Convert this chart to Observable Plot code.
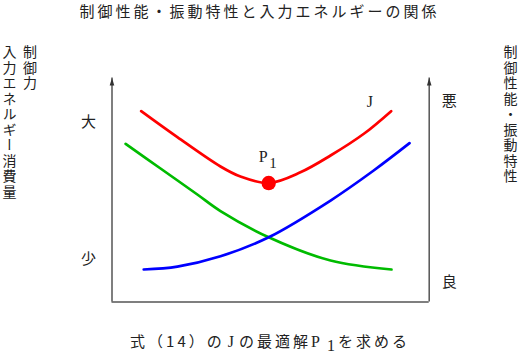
<!DOCTYPE html>
<html>
<head>
<meta charset="utf-8">
<script src="https://cdn.jsdelivr.net/npm/d3@7"></script>
<script src="https://cdn.jsdelivr.net/npm/@observablehq/plot@0.6"></script>
<style>
  body { margin: 0; background: #fff; }
  #wrap { position: relative; width: 519px; height: 353px; overflow: hidden;
          font-family: "Noto Sans CJK JP", sans-serif; color: #222; background: #fff; }
  #title { height: 28px; line-height: 22px; font-size: 15px; letter-spacing: 3px;
           text-align: center; white-space: nowrap; color: #222; }
  .vlab { position: absolute; writing-mode: vertical-rl; font-size: 14px; color: #222;
          letter-spacing: 1.5px; line-height: 20.5px; white-space: nowrap; }
  #caption { height: 25px; line-height: 25px; font-size: 15px; letter-spacing: 3px; color: #222;
             text-align: center; white-space: nowrap; padding-left: 21px; padding-top: 3px; }
  .serif { font-family: "Liberation Serif", serif; font-size: 16px; }
  .j { margin: 0 2px 0 3px; }
  .sub { position: relative; top: 3.5px; margin-left: 4px; }
  #chart svg { display: block; }
</style>
</head>
<body>
<div id="wrap">
  <div id="title">制御性能・振動特性と入力エネルギーの関係</div>
  <div id="chart"></div>
  <div id="caption">式（14）の<span class="serif j">J</span>の最適解<span class="serif">P</span><span class="serif sub">1</span>を求める</div>
  <div class="vlab" id="leftLab" style="left:-1px; top:45px;">制御力<br>入力エネルギー消費量</div>
  <div class="vlab" id="rightLab" style="left:500px; top:45px;">制御性能・振動特性</div>
</div>
<script>
// Curve data (x: control parameter, y: relative level)
const redX   = [9.2, 20.6, 34.2, 40.5, 49.4, 59.4, 68.9, 79.4, 88.0];
const redY   = [85.2, 73.6, 60.5, 56.0, 53.1, 57.9, 65.4, 75.1, 85.2];
const greenX = [4.3, 15.3, 26.9, 34.2, 49.4, 68.9, 88.1];
const greenY = [70.6, 59.6, 48.0, 40.6, 28.9, 18.5, 14.5];
const blueX  = [10.0, 20.6, 34.2, 49.4, 68.9, 82.5, 93.8];
const blueY  = [14.5, 15.8, 20.4, 28.9, 45.3, 58.7, 70.9];

// Optimum point P1
const p1X = [49.4];
const p1Y = [53.1];

// Axis tick labels
const leftTickLabels  = ["大", "少"];
const leftTickValues  = [80.4, 19.0];
const rightTickLabels = ["悪", "良"];
const rightTickValues = [89.5, 8.9];

// Curve label
const curveLabelText = ["J"];
const curveLabelX = [81.3];
const curveLabelY = [89.2];

const toRows = (xs, ys) => xs.map((x, i) => ({x, y: ys[i]}));
const red = toRows(redX, redY);
const green = toRows(greenX, greenY);
const blue = toRows(blueX, blueY);
const p1 = toRows(p1X, p1Y);

const arrowHead = {
  draw(ctx) { ctx.moveTo(0, 0); ctx.lineTo(-2.3, 7.5); ctx.lineTo(2.3, 7.5); ctx.closePath(); }
};

const axisColor = "#555";

const chart = Plot.plot({
  width: 519,
  height: 297,
  marginLeft: 111.5,
  marginRight: 90.3,
  marginTop: 49.5,
  marginBottom: 23.5,
  x: {domain: [0, 100], axis: null},
  y: {domain: [0, 100], axis: null},
  style: {fontFamily: "'Noto Sans CJK JP', sans-serif", background: "white", overflow: "visible"},
  marks: [
    Plot.ruleX([0, 100], {x: d => d, y1: 0, y2: 100, stroke: axisColor, strokeWidth: 1.5}),
    Plot.ruleY([0], {y: d => d, x1: 0, x2: 100, stroke: axisColor, strokeWidth: 1.5}),
    Plot.dot([0, 100], {x: d => d, y: 100, symbol: arrowHead, r: 3, fill: "#333", stroke: "none"}),
    Plot.line(red,   {x: "x", y: "y", curve: "catmull-rom", stroke: "#ff0000", strokeWidth: 2.7}),
    Plot.line(green, {x: "x", y: "y", curve: "catmull-rom", stroke: "#00bb00", strokeWidth: 2.7}),
    Plot.line(blue,  {x: "x", y: "y", curve: "catmull-rom", stroke: "#0000ff", strokeWidth: 2.7}),
    Plot.dot(p1, {x: "x", y: "y", r: 7.2, fill: "#ff0000", stroke: "none"}),
    Plot.text(p1, {x: "x", y: "y", text: () => "P", dx: -5.6, dy: -25.8,
      fontFamily: "'Liberation Serif', serif", fontSize: 16, fill: "#222"}),
    Plot.text(p1, {x: "x", y: "y", text: () => "1", dx: 4.4, dy: -19.8,
      fontFamily: "'Liberation Serif', serif", fontSize: 15, fill: "#222"}),
    Plot.text(curveLabelText, {x: curveLabelX, y: curveLabelY, text: d => d,
      fontFamily: "'Liberation Serif', serif", fontSize: 16, fill: "#222"}),
    Plot.text(leftTickLabels, {y: leftTickValues, text: d => d, frameAnchor: "left",
      textAnchor: "middle", dx: -23.5, fontSize: 15, fill: "#222"}),
    Plot.text(rightTickLabels, {y: rightTickValues, text: d => d, frameAnchor: "right",
      textAnchor: "middle", dx: 20, fontSize: 15, fill: "#222"})
  ]
});
document.getElementById("chart").appendChild(chart);
</script>
</body>
</html>
